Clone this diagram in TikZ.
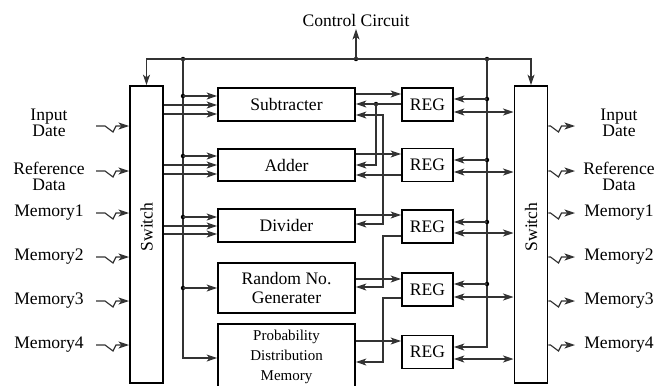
\documentclass[tikz,border=0pt]{standalone}
\usepackage{fontspec}
\setmainfont{Liberation Serif}
\usetikzlibrary{arrows.meta}

\begin{document}
\begin{tikzpicture}[x=0.03cm, y=-0.03cm,
  >={Stealth[length=9pt,width=6pt,inset=2.4pt]},
  every node/.style={font=\fontsize{15}{13.5}\selectfont},
  box/.style={draw, line width=1.4pt, inner sep=0pt, align=center},
  blk/.style={box, minimum width=4.11cm},
  regbox/.style={box, minimum width=1.53cm, minimum height=0.98cm},
  swbox/.style={box, minimum width=1.0cm, minimum height=8.91cm},
  wire/.style={line width=1pt, black!80},
  arr/.style={wire, ->},
  biarr/.style={wire, <->},
  dot/.style={circle, fill=black, inner sep=0pt, minimum size=3.8pt},
  zigin/.style={to path={-- ++(9,0) -- ++(8,6) -- ++(3,-6) -- (\tikztotarget)}},
  zigout/.style={to path={-- ++(2,0) -- ++(8,6) -- ++(3,-6) -- (\tikztotarget)}}]
  \useasboundingbox (0,0) rectangle (665,385);

  % switches
  \node[swbox] (swL) at (146.5,234.5) {};
  \node[swbox] (swR) at (531,234.5) {};
  \node[rotate=90] (swLtext) at (146.5,227) {Switch};
  \node[rotate=90] (swRtext) at (531,227) {Switch};

  % arithmetic blocks
  \node[blk, minimum height=0.99cm] (sub) at (286.5,104.5) {Subtracter};
  \node[blk, minimum height=0.96cm] (add) at (286.5,165) {Adder};
  \node[blk, minimum height=0.99cm] (div) at (286.5,225.5) {Divider};
  \node[blk, minimum height=1.5cm, font=\fontsize{15}{15.5}\selectfont] (rnd) at (286.5,288) {Random No.\\Generater};
  \node[blk, minimum height=1.98cm, font=\fontsize{12.8}{17}\selectfont] (pdm) at (286.5,357) {Probability\\Distribution\\Memory};

  % registers
  \node[regbox] (reg1) at (427.5,104.5) {REG};
  \node[regbox] (reg2) at (427.5,165) {REG};
  \node[regbox] (reg3) at (427.5,226.5) {REG};
  \node[regbox] (reg4) at (427.5,289.5) {REG};
  \node[regbox] (reg5) at (427.5,352) {REG};

  % side labels
  \node[align=center] (linp) at (49,123) {Input\\Date};
  \node[align=center] (lref) at (49,176) {Reference\\Data};
  \node (lm1) at (49,213) {Memory1};
  \node (lm2) at (49,257) {Memory2};
  \node (lm3) at (49,301) {Memory3};
  \node (lm4) at (49,345) {Memory4};
  \node[align=center] (rinp) at (619,123) {Input\\Date};
  \node[align=center] (rref) at (619,176) {Reference\\Data};
  \node (rm1) at (619,213) {Memory1};
  \node (rm2) at (619,257) {Memory2};
  \node (rm3) at (619,301) {Memory3};
  \node (rm4) at (619,345) {Memory4};

  \foreach \y [count=\i] in {126,171,213,257,301,345} {
    \coordinate (in\i) at (96,\y);
    \coordinate (out\i) at (575,\y);
    \draw[arr] (in\i) to[zigin] (swL.west |- in\i);
    \draw[arr] (swR.east |- out\i) to[zigout] (out\i);
  }

  % control bus
  \node[anchor=south, inner sep=2pt] (ctrl) at (356,29) {Control Circuit};
  \node[dot] (d0) at (183,59) {};
  \node[dot] (dc) at (356,59) {};
  \node[dot] (dr) at (487,59) {};
  \draw[biarr] (swL.north) -- (swL.north |- d0) -- (swR.north |- d0) -- (swR.north);
  \draw[arr] (dc.center) -- (ctrl.south);

  % left side feeds
  \draw[arr] (d0.center) |- (pdm.west |- 0,358);
  \foreach \b/\y in {sub/96, add/156, div/217, rnd/288} {
    \node[dot] (l\b) at (183,\y) {};
    \draw[arr] (l\b.center) -- (\b.west |- l\b);
  }
  \foreach \b/\y in {sub/105, sub/114, add/165, add/174, div/226, div/234}
    \draw[arr] (swL.east |- 0,\y) -- (\b.west |- 0,\y);

  % blocks <-> registers
  \node[dot] (j1) at (376,104) {};
  \draw[arr] (sub.east |- 0,94) -- (reg1.west |- 0,94);
  \draw[arr] (reg1.west |- j1) -- (sub.east |- j1);
  \draw[arr] (j1.center) |- (add.east |- 0,165);
  \draw[biarr] (sub.east |- 0,115) -| (383,224) -- (div.east |- 0,224);
  \draw[arr] (add.east |- 0,154) -- (reg2.west |- 0,154);
  \draw[arr] (reg2.west |- 0,175) -- (add.east |- 0,175);
  \draw[arr] (div.east |- 0,215) -- (reg3.west |- 0,215);
  \draw[arr] (reg3.west |- 0,236) -| (383,287) -- (rnd.east |- 0,287);
  \draw[arr] (rnd.east |- 0,279) -- (reg4.west |- 0,279);
  \draw[arr] (reg4.west |- 0,298) -| (383,362) -- (pdm.east |- 0,362);
  \draw[arr] (pdm.east |- 0,341) -- (reg5.west |- 0,341);

  % right side bus
  \draw[arr] (dr.center) |- (reg5.east |- 0,347);
  \foreach \r/\y in {reg1/99, reg2/160, reg3/222, reg4/284} {
    \node[dot] (r\r) at (487,\y) {};
    \draw[arr] (r\r.center) -- (\r.east |- r\r);
  }
  \foreach \r/\y in {reg1/112, reg2/172, reg3/233, reg4/297, reg5/359}
    \draw[biarr] (\r.east |- 0,\y) -- (swR.west |- 0,\y);
\end{tikzpicture}
\end{document}
